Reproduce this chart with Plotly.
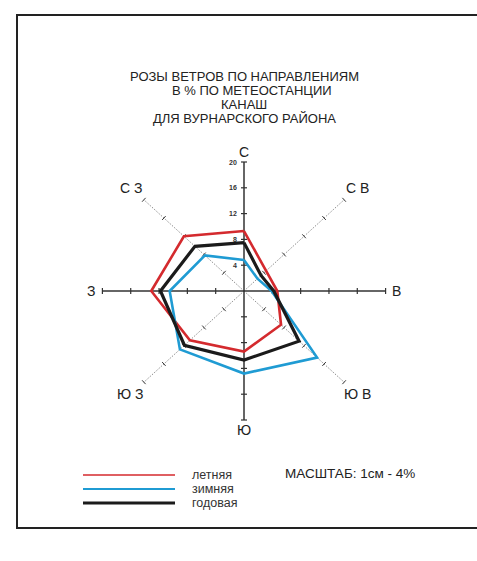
import numpy as np
import plotly.graph_objects as go

# ---------------- data ----------------
directions = ["С", "С В", "В", "Ю В", "Ю", "Ю З", "З", "С З"]
angles_deg = [0, 45, 90, 135, 180, 225, 270, 315]
summer = [9.3, 4.4, 4.7, 7.4, 9.4, 10.8, 13.1, 12.0]   # летняя
winter = [4.8, 2.7, 3.9, 14.6, 12.8, 12.8, 10.5, 7.8]  # зимняя
annual = [7.5, 3.4, 4.2, 11.0, 10.7, 11.9, 11.8, 9.8]  # годовая
series_names = ["летняя", "зимняя", "годовая"]
tick_values = [4, 8, 12, 16, 20]
tick_labels = ["4", "8", "12", "16", "20"]
title_lines = ["РОЗЫ ВЕТРОВ ПО НАПРАВЛЕНИЯМ", "В % ПО МЕТЕОСТАНЦИИ", "КАНАШ",
               "ДЛЯ ВУРНАРСКОГО РАЙОНА"]
scale_text = "МАСШТАБ: 1см - 4%"

# ---------------- layout constants ----------------
W, H = 477, 561
CX, CY = 244, 291          # centre of rose, px
SX, SY = 7.08, 6.45        # px per unit
AXMAX = 20
FONT = "Liberation Sans, Arial, sans-serif"
colors = ["#d42a2e", "#1f9bd3", "#1b1b1b"]
widths = [2.6, 2.6, 3.2]


def px2paper(px, py):
    return px / W, 1 - py / H


def polar_xy(r, ang):
    a = np.deg2rad(np.asarray(ang, dtype=float))
    r = np.asarray(r, dtype=float)
    return r * np.sin(a), r * np.cos(a)


fig = go.Figure()

# diagonal axes (fine dotted grey)
for ang in [45, 135, 225, 315]:
    x, y = polar_xy([0, AXMAX], [ang, ang])
    fig.add_trace(go.Scatter(x=x, y=y, mode="lines", hoverinfo="skip",
                             line=dict(color="#707070", width=0.8, dash="1.5px,1.5px"),
                             showlegend=False))
    tx, ty = polar_xy(tick_values, [ang] * len(tick_values))
    a = np.deg2rad(ang)
    dpx, dpy = np.sin(a) * SX, np.cos(a) * SY
    n = np.hypot(dpx, dpy)
    ppx, ppy = -dpy / n, dpx / n
    hl = 2.6
    xs, ys = [], []
    for xx, yy in zip(tx, ty):
        xs += [xx - ppx * hl / SX, xx + ppx * hl / SX, None]
        ys += [yy - ppy * hl / SY, yy + ppy * hl / SY, None]
    fig.add_trace(go.Scatter(x=xs, y=ys, mode="lines", hoverinfo="skip",
                             line=dict(color="#333333", width=1),
                             showlegend=False))

# main cross axes
fig.add_trace(go.Scatter(x=[-AXMAX, AXMAX], y=[0, 0], mode="lines", hoverinfo="skip",
                         line=dict(color="#333333", width=1.5), showlegend=False))
fig.add_trace(go.Scatter(x=[0, 0], y=[-AXMAX, AXMAX], mode="lines", hoverinfo="skip",
                         line=dict(color="#333333", width=1.5), showlegend=False))
xs, ys = [], []
for v in tick_values:
    for s in (1, -1):
        xs += [-3 / SX, 3 / SX, None]
        ys += [s * v, s * v, None]
        xs += [s * v, s * v, None]
        ys += [-3 / SY, 3 / SY, None]
fig.add_trace(go.Scatter(x=xs, y=ys, mode="lines", hoverinfo="skip",
                         line=dict(color="#333333", width=1.2), showlegend=False))

# tick labels on north axis
for v, lab in zip(tick_values, tick_labels):
    fig.add_annotation(x=-5 / SX, y=v, text=f"<b>{lab}</b>", showarrow=False,
                       xanchor="right", yanchor="middle",
                       font=dict(family=FONT, size=7, color="#333333"))

# wind rose polygons
for vals, name, c, w in zip([summer, winter, annual], series_names, colors, widths):
    x, y = polar_xy(list(vals) + [vals[0]], list(angles_deg) + [angles_deg[0]])
    fig.add_trace(go.Scatter(x=x, y=y, mode="lines", name=name, hoverinfo="skip",
                             line=dict(color=c, width=w), showlegend=False))

# direction labels
for d, ang in zip(directions, angles_deg):
    r = 21.6 if ang % 90 == 0 else 22.6
    x, y = polar_xy(r, ang)
    fig.add_annotation(x=float(x), y=float(y), text=d, showarrow=False,
                       xanchor="center", yanchor="middle",
                       font=dict(family=FONT, size=14, color="#222222"))

# title
title_y = [77, 90.5, 104, 118]
title_x = [245, 252, 244, 245]
for t, tx_, ty_ in zip(title_lines, title_x, title_y):
    px_, py_ = px2paper(tx_, ty_)
    fig.add_annotation(x=px_, y=py_, xref="paper", yref="paper", text=t,
                       showarrow=False, xanchor="center", yanchor="middle",
                       font=dict(family=FONT, size=13, color="#222222"))

# legend (drawn manually)
leg_y = [475, 489, 503]
leg_w = [1.6, 2.0, 3.2]
for name, c, lw, ly in zip(series_names, colors, leg_w, leg_y):
    x0, y0 = px2paper(83, ly)
    x1, _ = px2paper(175, ly)
    fig.add_shape(type="line", xref="paper", yref="paper", x0=x0, x1=x1, y0=y0, y1=y0,
                  line=dict(color=c, width=lw))
    tx_, _ = px2paper(190, ly)
    fig.add_annotation(x=tx_, y=y0, xref="paper", yref="paper", text=name,
                       showarrow=False, xanchor="left", yanchor="middle",
                       font=dict(family=FONT, size=12.5, color="#333333"))

sx_, sy_ = px2paper(283, 473)
fig.add_annotation(x=sx_, y=sy_, xref="paper", yref="paper", text=scale_text,
                   showarrow=False, xanchor="left", yanchor="middle",
                   font=dict(family=FONT, size=13.5, color="#222222"))

# frame
bx0, by0 = px2paper(17, 528)
bx1, by1 = px2paper(490, 15)
fig.add_shape(type="rect", xref="paper", yref="paper", x0=bx0, x1=bx1, y0=by0, y1=by1,
              line=dict(color="#222222", width=2))

fig.update_xaxes(visible=False, range=[-CX / SX, (W - CX) / SX], fixedrange=True)
fig.update_yaxes(visible=False, range=[-(H - CY) / SY, CY / SY], fixedrange=True)
fig.update_layout(width=W, height=H, autosize=False,
                  margin=dict(l=0, r=0, t=0, b=0, pad=0),
                  paper_bgcolor="white", plot_bgcolor="white", showlegend=False)

fig.write_html("out.html", config={"displayModeBar": False},
               post_script="document.body.style.margin='0';")
